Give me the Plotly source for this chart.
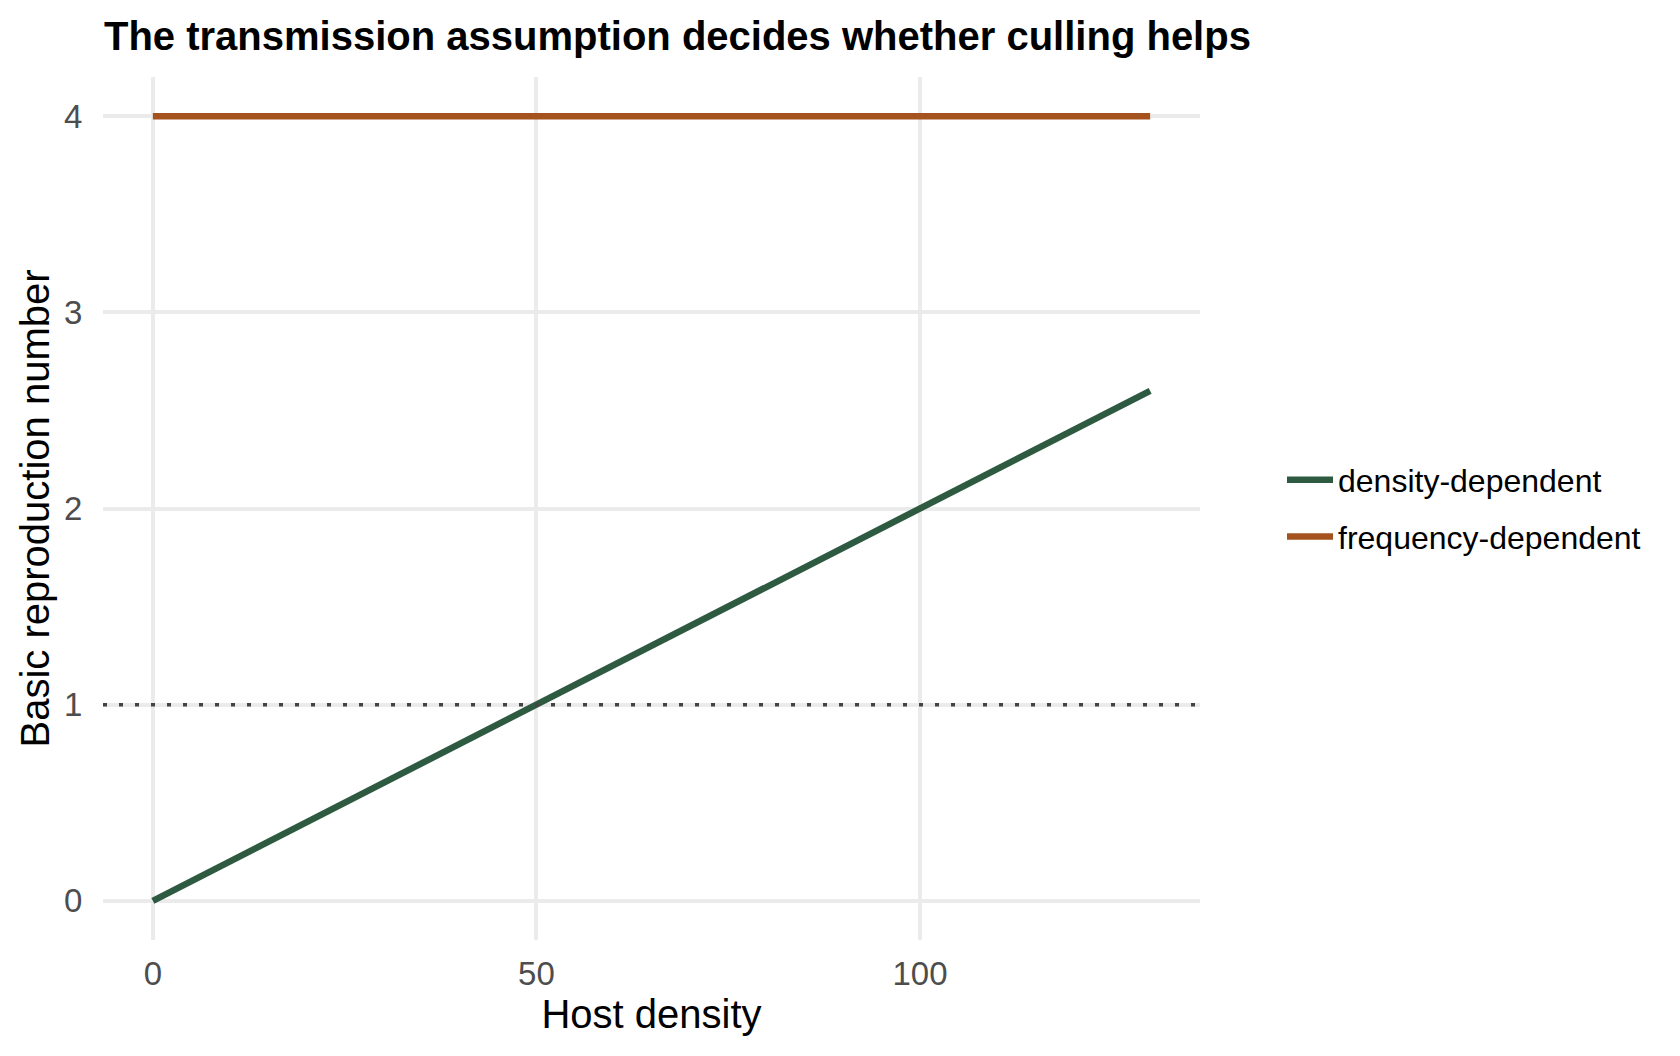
import plotly.graph_objects as go

# ---- data ----
host_density = [0, 25, 50, 75, 100, 130]
r0_density_dependent = [0.0, 0.5, 1.0, 1.5, 2.0, 2.6]
r0_frequency_dependent = [4.0, 4.0, 4.0, 4.0, 4.0, 4.0]
threshold = 1
series_names = ["density-dependent", "frequency-dependent"]
x_ticks = [0, 50, 100]
y_ticks = [0, 1, 2, 3, 4]

GREEN = "#2E5A41"
ORANGE = "#A5531E"
FONT = "Liberation Sans, Arial, Helvetica, sans-serif"

W, H = 1680, 1056
ML, MR, MT, MB = 103, 480, 77, 116

fig = go.Figure()
fig.add_trace(go.Scatter(x=host_density, y=r0_density_dependent, mode="lines",
                         name=series_names[0], line=dict(color=GREEN, width=6.5),
                         legendgroup="a"))
fig.add_trace(go.Scatter(x=host_density, y=r0_frequency_dependent, mode="lines",
                         name=series_names[1], line=dict(color=ORANGE, width=6.5),
                         legendgroup="b"))

fig.add_hline(y=threshold, line=dict(color="#444444", width=3.5, dash="4px,12px"),
              layer="above")

fig.update_layout(
    width=W, height=H, autosize=False,
    margin=dict(l=ML, r=MR, t=MT, b=MB, pad=0),
    paper_bgcolor="white", plot_bgcolor="white",
    font=dict(family=FONT, color="#000000"),
    title=dict(text="<b>The transmission assumption decides whether culling helps</b>",
               xref="container", yref="container",
               x=104 / W, xanchor="left", y=1 - 36 / H, yanchor="middle",
               font=dict(size=40, color="#000000", family=FONT)),
    showlegend=True,
    legend=dict(x=(1282 - ML) / (W - ML - MR), xanchor="left",
                y=0.5, yanchor="middle", font=dict(size=32, color="#000000"),
                traceorder="grouped", tracegroupgap=12, itemwidth=46,
                bgcolor="rgba(0,0,0,0)", borderwidth=0),
)

fig.update_xaxes(range=[-6.5, 136.5], tickvals=x_ticks, showgrid=True,
                 gridcolor="#EBEBEB", gridwidth=3.5, zeroline=False, showline=False,
                 ticks="outside", ticklen=4, tickcolor="rgba(0,0,0,0)",
                 tickfont=dict(size=33, color="#4D4D4D"),
                 title=dict(text="Host density", font=dict(size=40, color="#000000"),
                            standoff=8))
fig.update_yaxes(range=[-0.2, 4.2], tickvals=y_ticks, showgrid=True,
                 gridcolor="#EBEBEB", gridwidth=3.5, zeroline=False, showline=False,
                 ticks="outside", ticklen=13, tickcolor="rgba(0,0,0,0)",
                 tickfont=dict(size=33, color="#4D4D4D"),
                 title=dict(text="Basic reproduction number", font=dict(size=40, color="#000000"),
                            standoff=2))

fig.write_html("out.html")
